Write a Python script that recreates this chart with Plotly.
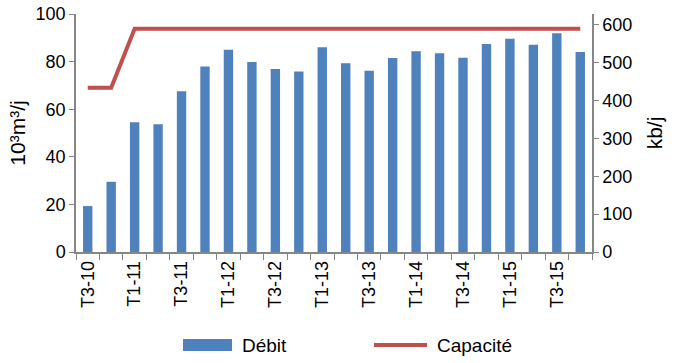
import plotly.graph_objects as go

categories = ["T3-10", "T4-10", "T1-11", "T2-11", "T3-11", "T4-11", "T1-12", "T2-12",
              "T3-12", "T4-12", "T1-13", "T2-13", "T3-13", "T4-13", "T1-14", "T2-14",
              "T3-14", "T4-14", "T1-15", "T2-15", "T3-15", "T4-15"]
debit = [19.3, 29.5, 54.5, 53.7, 67.5, 77.9, 85.0, 79.8, 76.9, 75.8, 86.0, 79.3,
         76.2, 81.5, 84.3, 83.5, 81.6, 87.4, 89.6, 87.1, 91.9, 84.0]
capacite = [434, 434] + [590] * 20
tick_labels = [c if i % 2 == 0 else "" for i, c in enumerate(categories)]
left_ticks = [0, 20, 40, 60, 80, 100]
right_ticks = [0, 100, 200, 300, 400, 500, 600]

BLUE = "#4F81BD"
RED = "#C0504D"
AXIS = "#868686"
FONT = "Liberation Sans, Arial, sans-serif"

fig = go.Figure()
fig.add_trace(go.Bar(x=categories, y=debit, name="Débit", marker_color=BLUE,
                     marker_line_width=0, yaxis="y", showlegend=False))
fig.add_trace(go.Scatter(x=categories, y=capacite, name="Capacité", mode="lines",
                         line=dict(color=RED, width=4), yaxis="y2", showlegend=False))

fig.update_layout(
    width=685, height=363,
    margin=dict(l=76, r=93, t=14, b=111),
    plot_bgcolor="white", paper_bgcolor="white",
    font=dict(family=FONT, size=18, color="#000000"),
    bargap=0.6,
    xaxis=dict(type="category", tickmode="array", tickvals=categories, ticktext=tick_labels,
               tickangle=-90, tickson="boundaries", ticks="outside", ticklen=6,
               tickcolor=AXIS, showline=True, linecolor=AXIS, linewidth=1.5,
               showgrid=False, range=[-0.5, 21.5], tickfont=dict(size=18),
               automargin=False),
    yaxis=dict(range=[0, 100], tickvals=left_ticks, ticks="outside", ticklen=5,
               tickcolor=AXIS, showline=True, linecolor=AXIS, linewidth=1.5,
               showgrid=False, zeroline=False, tickfont=dict(size=18), automargin=False,
               title=dict(text="10³m³/j", font=dict(size=21), standoff=4)),
    yaxis2=dict(range=[0, 629], tickvals=right_ticks, overlaying="y", side="right",
                ticks="outside", ticklen=5, tickcolor=AXIS, showline=True,
                linecolor=AXIS, linewidth=1.5, showgrid=False, zeroline=False,
                tickfont=dict(size=18), automargin=False,
                title=dict(text="kb/j", font=dict(size=21), standoff=16)),
)

# Legend drawn manually in paper coordinates
fig.add_shape(type="rect", xref="paper", yref="paper",
              x0=(183 - 76) / 516, x1=(232 - 76) / 516,
              y0=(252 - 351) / 238, y1=(252 - 339) / 238,
              fillcolor=BLUE, line_width=0)
fig.add_annotation(xref="paper", yref="paper", x=(240 - 76) / 516, y=(252 - 345) / 238,
                   text="Débit", showarrow=False, xanchor="left", yanchor="middle",
                   font=dict(size=19))
fig.add_shape(type="line", xref="paper", yref="paper",
              x0=(374 - 76) / 516, x1=(427 - 76) / 516,
              y0=(252 - 345) / 238, y1=(252 - 345) / 238,
              line=dict(color=RED, width=4))
fig.add_annotation(xref="paper", yref="paper", x=(435 - 76) / 516, y=(252 - 345) / 238,
                   text="Capacité", showarrow=False, xanchor="left", yanchor="middle",
                   font=dict(size=19))

fig.write_html("out.html", config={"displayModeBar": False},
               post_script="document.body.style.margin='0';")
